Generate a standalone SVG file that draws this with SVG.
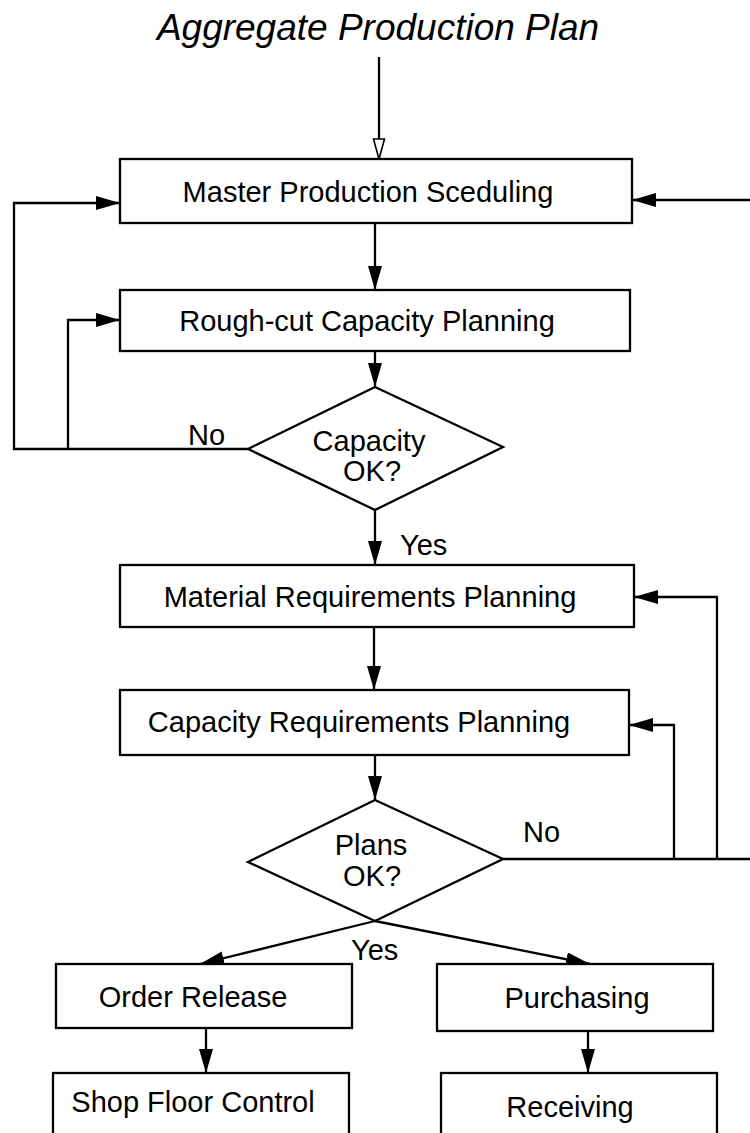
<svg xmlns="http://www.w3.org/2000/svg" width="750" height="1133" viewBox="0 0 750 1133">
<style>
.box{fill:#fff;stroke:#000;stroke-width:2.3}
.t{font-family:"Liberation Sans",Arial,sans-serif;font-size:29px;fill:#000}
.c{text-anchor:middle}
.ln{fill:none;stroke:#000;stroke-width:2.3}
</style>
<defs>
<marker id="ah" viewBox="0 0 24 14" refX="24" refY="7" markerWidth="24" markerHeight="14" markerUnits="userSpaceOnUse" orient="auto">
<path d="M0,0 L24,7 L0,14 z" fill="#000"/>
</marker>
<marker id="oh" viewBox="0 0 22 14" refX="21" refY="7" markerWidth="22" markerHeight="14" markerUnits="userSpaceOnUse" orient="auto">
<path d="M1,1.5 L21,7 L1,12.5 z" fill="#fff" stroke="#000" stroke-width="1.6"/>
</marker>
</defs>
<rect width="750" height="1133" fill="#fff"/>
<text x="378" y="40" class="t c" style="font-size:37px;font-style:italic">Aggregate Production Plan</text>
<g id="connectors">
<line class="ln" x1="379" y1="57" x2="379" y2="159" marker-end="url(#oh)"/>
<line class="ln" x1="750" y1="200" x2="632" y2="200" marker-end="url(#ah)"/>
<polyline class="ln" points="248,449 14,449 14,203 120,203" marker-end="url(#ah)"/>
<polyline class="ln" points="68,449 68,320 120,320" marker-end="url(#ah)"/>
<line class="ln" x1="375" y1="223" x2="375" y2="290" marker-end="url(#ah)"/>
<line class="ln" x1="375" y1="351" x2="375" y2="387" marker-end="url(#ah)"/>
<line class="ln" x1="375" y1="510" x2="375" y2="565" marker-end="url(#ah)"/>
<line class="ln" x1="374" y1="627" x2="374" y2="690" marker-end="url(#ah)"/>
<line class="ln" x1="375" y1="755" x2="375" y2="800" marker-end="url(#ah)"/>
<line class="ln" x1="503" y1="859" x2="750" y2="859"/>
<polyline class="ln" points="674,859 674,725 629,725" marker-end="url(#ah)"/>
<polyline class="ln" points="717,859 717,597 634,597" marker-end="url(#ah)"/>
<line class="ln" x1="375" y1="921" x2="200" y2="964" marker-end="url(#ah)"/>
<line class="ln" x1="375" y1="921" x2="590" y2="964" marker-end="url(#ah)"/>
<line class="ln" x1="206" y1="1028" x2="206" y2="1073" marker-end="url(#ah)"/>
<line class="ln" x1="588" y1="1031" x2="588" y2="1073" marker-end="url(#ah)"/>
<text x="188" y="445" class="t">No</text>
<text x="400" y="555" class="t">Yes</text>
<text x="523" y="842" class="t">No</text>
<text x="351" y="960" class="t">Yes</text>
</g>
<g id="mps">
<rect class="box" x="120" y="159" width="512" height="64"/>
<text x="368" y="202" class="t c">Master Production Sceduling</text>
</g>
<g id="rccp">
<rect class="box" x="120" y="290" width="510" height="61"/>
<text x="367" y="331" class="t c">Rough-cut Capacity Planning</text>
</g>
<g id="capacity-ok">
<polygon class="box" points="375,387 503,447 375,510 248,449"/>
<text x="369" y="451" class="t c">Capacity</text>
<text x="372" y="481" class="t c">OK?</text>
</g>
<g id="mrp">
<rect class="box" x="120" y="565" width="514" height="62"/>
<text x="370" y="607" class="t c">Material Requirements Planning</text>
</g>
<g id="crp">
<rect class="box" x="120" y="690" width="509" height="65"/>
<text x="359" y="732" class="t c">Capacity Requirements Planning</text>
</g>
<g id="plans-ok">
<polygon class="box" points="375,800 503,859 375,921 248,862"/>
<text x="371" y="855" class="t c">Plans</text>
<text x="372" y="886" class="t c">OK?</text>
</g>
<g id="order-release">
<rect class="box" x="56" y="964" width="296" height="64"/>
<text x="193" y="1007" class="t c">Order Release</text>
</g>
<g id="shop-floor">
<rect class="box" x="53" y="1073" width="296" height="80"/>
<text x="193" y="1112" class="t c">Shop Floor Control</text>
</g>
<g id="purchasing">
<rect class="box" x="437" y="964" width="276" height="67"/>
<text x="577" y="1008" class="t c">Purchasing</text>
</g>
<g id="receiving">
<rect class="box" x="441" y="1073" width="276" height="80"/>
<text x="570" y="1117" class="t c">Receiving</text>
</g>
</svg>
